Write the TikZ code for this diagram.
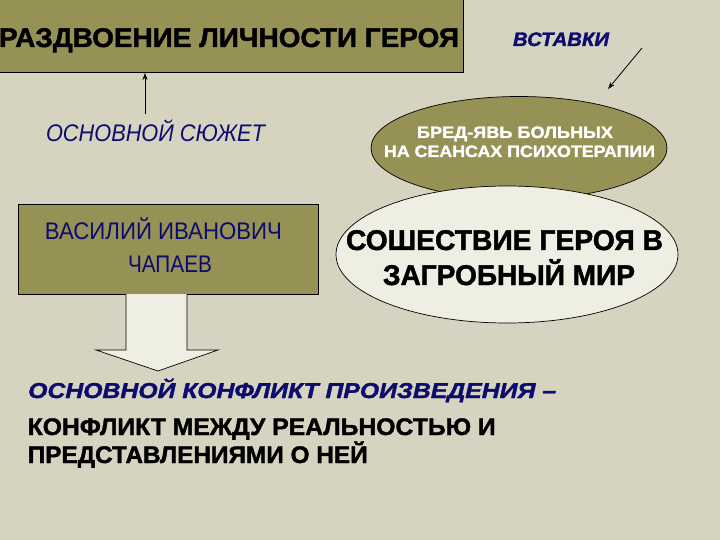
\documentclass[tikz,border=0pt]{standalone}
\usepackage{fontspec}
\setmainfont{Liberation Sans}[BoldFeatures={FakeBold=1.6},BoldItalicFeatures={FakeBold=1.6}]
\usetikzlibrary{arrows.meta,shapes.geometric}
\definecolor{bgcol}{RGB}{214,212,192}
\definecolor{olivecol}{RGB}{150,145,84}
\definecolor{navycol}{RGB}{12,12,110}
\definecolor{palecol}{RGB}{238,238,226}
\newcommand{\fitto}[2]{\resizebox{#1}{\height}{#2}}
\begin{document}
\begin{tikzpicture}[x=1pt,y=-1pt,
  txt/.style={inner sep=0pt, anchor=base},
  olivebox/.style={draw=black, line width=0.7pt, fill=olivecol, inner sep=0pt},
  thinarrow/.style={-{Stealth[length=7pt,width=5pt]}, line width=0.8pt}]
\fill[bgcol] (0,0) rectangle (720,540);
\useasboundingbox (0,0) rectangle (720,540);

% top title box
\node[olivebox, rectangle, anchor=north west, minimum width=465pt, minimum height=73pt] (titlebox) at (-2,-1) {};
\node[txt, font=\fontsize{27}{30}\selectfont\bfseries] (title) at (229,47) {\fitto{460pt}{РАЗДВОЕНИЕ ЛИЧНОСТИ ГЕРОЯ}};

% inserts label
\node[txt, text=navycol, font=\fontsize{19.5}{22}\selectfont\bfseries\itshape] (vst) at (561,46) {\fitto{96pt}{ВСТАВКИ}};

% main plot label
\node[txt, text=navycol, font=\fontsize{24}{26}\selectfont\itshape] (osn) at (155.5,142) {\fitto{219pt}{ОСНОВНОЙ СЮЖЕТ}};
\coordinate (osnup) at (145,114);
\coordinate (titlein) at (145,73);
\draw[thinarrow] (osnup) -- (titlein);

% olive ellipse
\node[olivebox, ellipse, minimum width=296pt, minimum height=103pt] (bred) at (519,148) {};
\node[txt, text=white, font=\fontsize{16.5}{18}\selectfont\bfseries] (bred1) at (515,138) {\fitto{196pt}{БРЕД-ЯВЬ БОЛЬНЫХ}};
\node[txt, text=white, font=\fontsize{16.5}{18}\selectfont\bfseries] (bred2) at (519.5,157) {\fitto{271pt}{НА СЕАНСАХ ПСИХОТЕРАПИИ}};
\coordinate (vstarr) at (642,48);
\coordinate (bredtop) at (608,89);
\draw[thinarrow] (vstarr) -- (bredtop);

% pale ellipse
\node[draw=black, line width=0.7pt, fill=palecol, ellipse, minimum width=342pt, minimum height=137pt, inner sep=0pt] (sosh) at (507,254.5) {};
\node[txt, font=\fontsize{28.5}{32}\selectfont\bfseries] (sosh1) at (504.5,250) {\fitto{317pt}{СОШЕСТВИЕ ГЕРОЯ В}};
\node[txt, font=\fontsize{28.5}{32}\selectfont\bfseries] (sosh2) at (509,285) {\fitto{252pt}{ЗАГРОБНЫЙ МИР}};

% Chapaev box
\node[olivebox, rectangle, anchor=north west, minimum width=300pt, minimum height=90pt] (chapbox) at (18,204) {};
\node[txt, text=navycol, font=\fontsize{24}{26}\selectfont] (chap1) at (163.5,240) {\fitto{237pt}{ВАСИЛИЙ ИВАНОВИЧ}};
\node[txt, text=navycol, font=\fontsize{24}{26}\selectfont] (chap2) at (170,272) {\fitto{84pt}{ЧАПАЕВ}};

% block arrow down
\fill[palecol] (126,294) -- (126,350) -- (96,350) -- (158,371) -- (218,350) -- (187,350) -- (187,294) -- cycle;
\draw[line width=0.7pt, line join=miter] (126,294) -- (126,350) -- (96,350) -- (158,371) -- (218,350) -- (187,350) -- (187,294);

% conclusion text
\node[txt, anchor=base west, text=navycol, font=\fontsize{21.5}{24}\selectfont\bfseries\itshape] (conf1) at (28,398) {\fitto{528pt}{ОСНОВНОЙ КОНФЛИКТ ПРОИЗВЕДЕНИЯ –}};
\node[txt, anchor=base west, font=\fontsize{24}{26}\selectfont\bfseries] (conf2) at (27.5,435) {\fitto{468pt}{КОНФЛИКТ МЕЖДУ РЕАЛЬНОСТЬЮ И}};
\node[txt, anchor=base west, font=\fontsize{24}{26}\selectfont\bfseries] (conf3) at (27.5,463) {\fitto{340pt}{ПРЕДСТАВЛЕНИЯМИ О НЕЙ}};
\end{tikzpicture}
\end{document}
